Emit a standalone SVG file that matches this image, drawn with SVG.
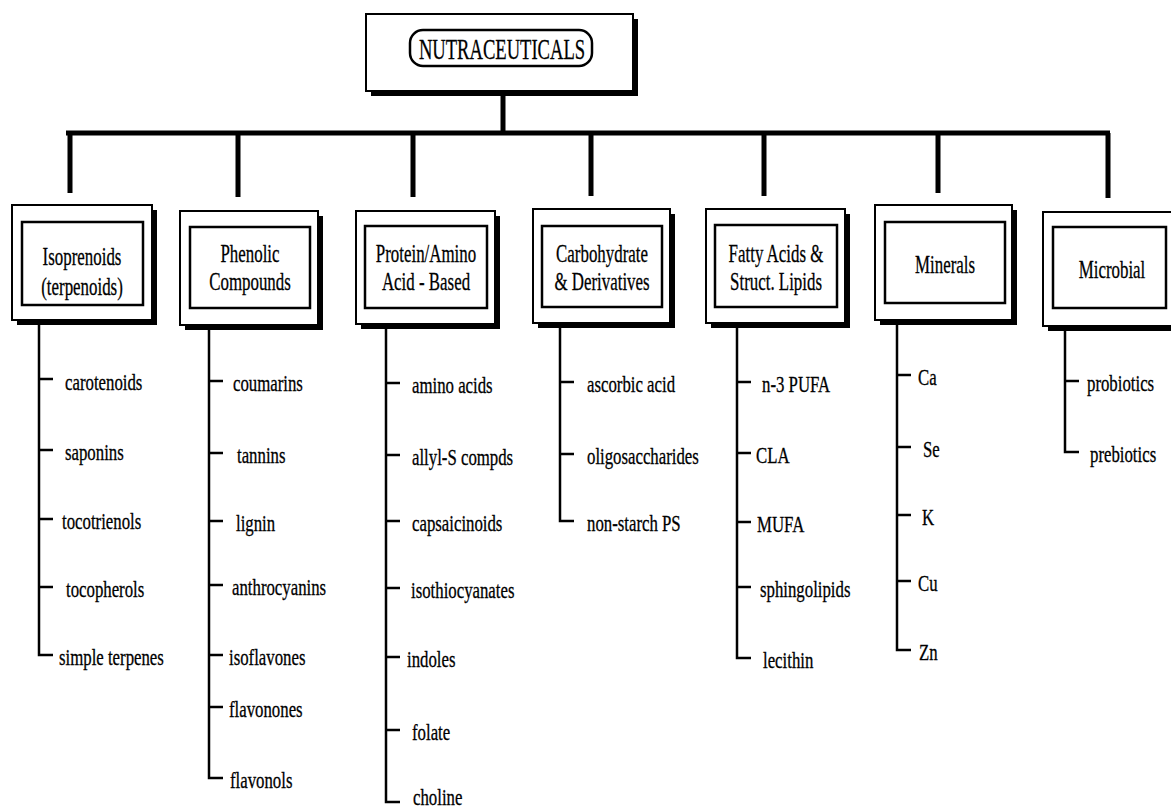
<svg xmlns="http://www.w3.org/2000/svg" width="1171" height="808" viewBox="0 0 1171 808">
<style>
.bg{fill:#fff}
.shadow{fill:#000}
.outer{fill:#fff;stroke:#000;stroke-width:2}
.inner{fill:#fff;stroke:#000;stroke-width:2.5}
.thick{stroke:#000;stroke-width:5;fill:none}
.stem{stroke:#000;stroke-width:2.5;fill:none}
.item{font-family:"Liberation Serif",serif;font-size:23px;fill:#000;stroke:#000;stroke-width:0.3}
.lbl{font-family:"Liberation Serif",serif;font-size:26px;fill:#000;text-anchor:middle;stroke:#000;stroke-width:0.3}
.title{font-family:"Liberation Serif",serif;font-size:30px;fill:#000;text-anchor:middle;stroke:#000;stroke-width:0.3}
</style>
<rect class="bg" x="0" y="0" width="1171" height="808"/>
<g id="connectors">
  <path class="thick" d="M503 96 V133"/>
  <path class="thick" d="M66 133 H1110" stroke-width="6"/>
  <path class="thick" d="M70 133 V193 M238 133 V197 M413 133 V197 M591 133 V196 M764 133 V196 M938 133 V193 M1108 133 V198"/>
  <path class="stem" d="M39 324 V655 H53 M39 379 H53 M39 450 H53 M39 519 H53 M39 587 H53"/>
  <path class="stem" d="M209 329 V778 H223 M209 381 H223 M209 453 H223 M209 521 H223 M209 585 H223 M209 655 H223 M209 707 H223"/>
  <path class="stem" d="M386 329 V802 H400 M386 383 H400 M386 455 H400 M386 521 H400 M386 588 H400 M386 657 H400 M386 730 H400"/>
  <path class="stem" d="M560 328 V521 H574 M560 382 H574 M560 454 H574"/>
  <path class="stem" d="M737 328 V658 H751 M737 382 H751 M737 453 H751 M737 522 H751 M737 587 H751"/>
  <path class="stem" d="M897 324 V650 H911 M897 375 H911 M897 447 H911 M897 515 H911 M897 581 H911"/>
  <path class="stem" d="M1065 330 V452 H1079 M1065 381 H1079"/>
</g>
<g id="root">
  <rect class="shadow" x="371" y="19" width="267" height="77"/>
  <rect class="outer" x="366" y="14" width="267" height="77"/>
  <rect class="inner" x="410" y="30" width="182" height="36" rx="13"/>
  <text class="title" transform="translate(502,59) scale(0.62,1)">NUTRACEUTICALS</text>
</g>
<g id="isoprenoids">
  <rect class="shadow" x="17" y="210" width="140" height="115"/>
  <rect class="outer" x="12" y="205" width="140" height="115"/>
  <rect class="inner" x="22" y="222" width="121" height="83"/>
  <text class="lbl" transform="translate(82,265) scale(0.65,1)">Isoprenoids</text>
  <text class="lbl" transform="translate(82,295) scale(0.65,1)">(terpenoids)</text>
  <text class="item" transform="translate(65,390) scale(0.73,1)">carotenoids</text>
  <text class="item" transform="translate(65,460) scale(0.73,1)">saponins</text>
  <text class="item" transform="translate(62,529) scale(0.73,1)">tocotrienols</text>
  <text class="item" transform="translate(66,597) scale(0.73,1)">tocopherols</text>
  <text class="item" transform="translate(59,665) scale(0.73,1)">simple terpenes</text>
</g>
<g id="phenolic">
  <rect class="shadow" x="185" y="216" width="138" height="114"/>
  <rect class="outer" x="180" y="211" width="138" height="114"/>
  <rect class="inner" x="190" y="227" width="120" height="81"/>
  <text class="lbl" transform="translate(250,262) scale(0.65,1)">Phenolic</text>
  <text class="lbl" transform="translate(250,290) scale(0.65,1)">Compounds</text>
  <text class="item" transform="translate(233,391) scale(0.73,1)">coumarins</text>
  <text class="item" transform="translate(237,463) scale(0.73,1)">tannins</text>
  <text class="item" transform="translate(236,531) scale(0.73,1)">lignin</text>
  <text class="item" transform="translate(232,595) scale(0.73,1)">anthrocyanins</text>
  <text class="item" transform="translate(229,665) scale(0.73,1)">isoflavones</text>
  <text class="item" transform="translate(229,717) scale(0.73,1)">flavonones</text>
  <text class="item" transform="translate(230,788) scale(0.73,1)">flavonols</text>
</g>
<g id="protein">
  <rect class="shadow" x="361" y="216" width="139" height="113"/>
  <rect class="outer" x="356" y="211" width="139" height="113"/>
  <rect class="inner" x="365" y="226" width="122" height="82"/>
  <text class="lbl" transform="translate(426,262) scale(0.65,1)">Protein/Amino</text>
  <text class="lbl" transform="translate(426,290) scale(0.65,1)">Acid - Based</text>
  <text class="item" transform="translate(412,393) scale(0.73,1)">amino acids</text>
  <text class="item" transform="translate(412,465) scale(0.73,1)">allyl-S compds</text>
  <text class="item" transform="translate(412,531) scale(0.73,1)">capsaicinoids</text>
  <text class="item" transform="translate(411,598) scale(0.73,1)">isothiocyanates</text>
  <text class="item" transform="translate(407,667) scale(0.73,1)">indoles</text>
  <text class="item" transform="translate(412,740) scale(0.73,1)">folate</text>
  <text class="item" transform="translate(413,805) scale(0.73,1)">choline</text>
</g>
<g id="carbohydrate">
  <rect class="shadow" x="538" y="214" width="137" height="114"/>
  <rect class="outer" x="533" y="209" width="137" height="114"/>
  <rect class="inner" x="542" y="226" width="120" height="81"/>
  <text class="lbl" transform="translate(602,262) scale(0.65,1)">Carbohydrate</text>
  <text class="lbl" transform="translate(602,290) scale(0.65,1)">&amp; Derivatives</text>
  <text class="item" transform="translate(587,392) scale(0.73,1)">ascorbic acid</text>
  <text class="item" transform="translate(587,464) scale(0.73,1)">oligosaccharides</text>
  <text class="item" transform="translate(587,531) scale(0.73,1)">non-starch PS</text>
</g>
<g id="fatty">
  <rect class="shadow" x="711" y="214" width="139" height="114"/>
  <rect class="outer" x="706" y="209" width="139" height="114"/>
  <rect class="inner" x="715" y="225" width="122" height="82"/>
  <text class="lbl" transform="translate(776,262) scale(0.65,1)">Fatty Acids &amp;</text>
  <text class="lbl" transform="translate(776,290) scale(0.65,1)">Struct. Lipids</text>
  <text class="item" transform="translate(762,392) scale(0.73,1)">n-3 PUFA</text>
  <text class="item" transform="translate(756,463) scale(0.73,1)">CLA</text>
  <text class="item" transform="translate(757,532) scale(0.73,1)">MUFA</text>
  <text class="item" transform="translate(760,597) scale(0.73,1)">sphingolipids</text>
  <text class="item" transform="translate(763,668) scale(0.73,1)">lecithin</text>
</g>
<g id="minerals">
  <rect class="shadow" x="880" y="210" width="137" height="115"/>
  <rect class="outer" x="875" y="205" width="137" height="115"/>
  <rect class="inner" x="885" y="222" width="120" height="81"/>
  <text class="lbl" transform="translate(945,273) scale(0.65,1)">Minerals</text>
  <text class="item" transform="translate(918,385) scale(0.73,1)">Ca</text>
  <text class="item" transform="translate(923,457) scale(0.73,1)">Se</text>
  <text class="item" transform="translate(922,525) scale(0.73,1)">K</text>
  <text class="item" transform="translate(918,591) scale(0.73,1)">Cu</text>
  <text class="item" transform="translate(919,660) scale(0.73,1)">Zn</text>
</g>
<g id="microbial">
  <rect class="shadow" x="1048" y="217" width="135" height="114"/>
  <rect class="outer" x="1043" y="212" width="135" height="114"/>
  <rect class="inner" x="1053" y="227" width="113" height="81"/>
  <text class="lbl" transform="translate(1112,278) scale(0.65,1)">Microbial</text>
  <text class="item" transform="translate(1087,391) scale(0.73,1)">probiotics</text>
  <text class="item" transform="translate(1090,462) scale(0.73,1)">prebiotics</text>
</g>
</svg>
